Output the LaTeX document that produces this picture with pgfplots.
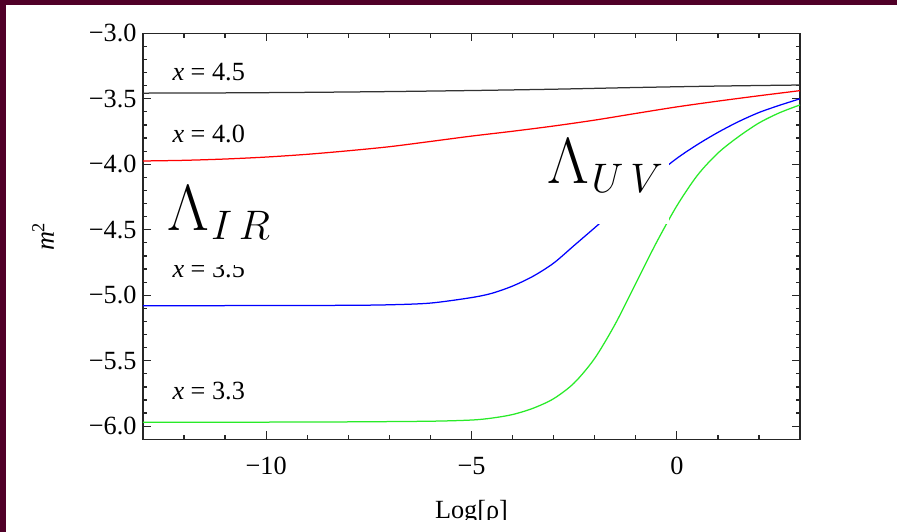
\RequirePackage{fix-cm}
\documentclass[border=0pt]{standalone}
\usepackage{fontspec}
\setmainfont{Liberation Serif}
\usepackage{pgfplots}
\pgfplotsset{compat=1.18}
\DeclareMathSizes{26}{26}{16.5}{11}

\definecolor{slidebg}{RGB}{80,0,40}
\definecolor{curvegreen}{RGB}{40,235,40}

\begin{document}
\begin{tikzpicture}
% slide frame behind the figure
\useasboundingbox (-57.2pt,-37.08pt) rectangle (301.6pt,175.72pt);
\fill[slidebg] (-57.2pt,-37.08pt) rectangle (301.6pt,175.72pt);
\fill[white] (-54.8pt,-37.08pt) rectangle (301.6pt,173.72pt);
\begin{scope}
\clip (-54.8pt,-32.1pt) rectangle (301.6pt,173.72pt);
\begin{axis}[
  at={(0pt,0pt)}, anchor=south west,
  scale only axis, width=262.8pt, height=162.4pt,
  xmin=-13, xmax=3, ymin=-6.1, ymax=-3,
  xtick={-10,-5,0},
  xticklabels={−10,−5,0},
  minor xtick={-13,-12,-11,-9,-8,-7,-6,-4,-3,-2,-1,1,2,3},
  ytick={-6,-5.5,-5,-4.5,-4,-3.5,-3},
  yticklabels={−6.0,−5.5,−5.0,−4.5,−4.0,−3.5,−3.0},
  minor ytick={-6.1,-5.9,-5.8,-5.7,-5.6,-5.4,-5.3,-5.2,-5.1,-4.9,-4.8,-4.7,-4.6,-4.4,-4.3,-4.2,-4.1,-3.9,-3.8,-3.7,-3.6,-3.4,-3.3,-3.2,-3.1},
  tick align=inside,
  major tick length=3.2pt, minor tick length=1.8pt,
  axis line style={line width=0.5pt, black!85},
  every tick/.style={black!85, line width=0.5pt},
  tick label style={font=\fontsize{10.5}{12}\selectfont},
  yticklabel style={inner xsep=0pt, xshift=-2.4pt},
  xticklabel style={inner ysep=0pt, yshift=-7pt},
  xlabel={Log[ρ]},
  xlabel style={at={(axis description cs:0.5,0)}, anchor=base, yshift=-31.5pt,
    font=\fontsize{10.5}{12}\selectfont},
  ylabel={\textit{m}\textsuperscript{2}},
  ylabel style={at={(axis description cs:-0.152,0.5)}, anchor=center,
    font=\fontsize{10.5}{12}\selectfont},
]
% x = 4.5
\addplot[black!80, line width=0.5pt, smooth] table {
-13 -3.457
-11 -3.455
-9  -3.451
-7  -3.445
-5  -3.437
-3  -3.427
-1  -3.414
1   -3.403
3   -3.395
};
% x = 4.0
\addplot[red, line width=0.5pt, smooth] table {
-13 -3.975
-12 -3.970
-11 -3.960
-10 -3.945
-9  -3.924
-8  -3.897
-7  -3.866
-6  -3.826
-5  -3.785
-4  -3.748
-3  -3.708
-2  -3.663
-1  -3.612
0   -3.562
1   -3.518
2   -3.477
3   -3.438
};
% x = 3.5
\addplot[blue, line width=0.5pt, smooth] table {
-13  -5.080
-10  -5.079
-8   -5.077
-7   -5.073
-6   -5.060
-5   -5.018
-4.5 -4.985
-4   -4.930
-3.5 -4.855
-3   -4.755
-2.5 -4.620
-2   -4.485
-1.5 -4.348
-1   -4.213
-0.5 -4.080
0    -3.955
0.5  -3.850
1    -3.757
1.5  -3.675
2    -3.605
2.5  -3.550
3    -3.500
};
% x = 3.3
\addplot[curvegreen, line width=0.5pt, smooth] table {
-13  -5.970
-10  -5.969
-8   -5.967
-6   -5.962
-5   -5.953
-4.5 -5.938
-4   -5.911
-3.5 -5.863
-3   -5.790
-2.5 -5.670
-2   -5.482
-1.5 -5.220
-1   -4.910
-0.5 -4.600
0    -4.318
0.5  -4.085
1    -3.915
1.5  -3.790
2    -3.685
2.5  -3.607
3    -3.547
};
\node[font=\fontsize{10.5}{12}\selectfont] at (axis cs:-11.4,-3.295) {\textit{x} = 4.5};
\node[font=\fontsize{10.5}{12}\selectfont] at (axis cs:-11.4,-3.767) {\textit{x} = 4.0};
\node[font=\fontsize{10.5}{12}\selectfont] at (axis cs:-11.4,-4.799) {\textit{x} = 3.5};
\node[font=\fontsize{10.5}{12}\selectfont] at (axis cs:-11.4,-5.731) {\textit{x} = 3.3};
% scale labels on opaque boxes
\node[fill=white, inner xsep=2pt, inner ysep=2pt, text depth=12pt, anchor=base west,
  font=\fontsize{26}{30}\selectfont] at (axis cs:-12.547,-4.502)
  {$\Lambda_{\mkern1mu I\mkern3mu R}$};
\node[fill=white, inner xsep=2pt, inner ysep=2pt, text depth=14.4pt, anchor=base west,
  font=\fontsize{26}{30}\selectfont] at (axis cs:-3.277,-4.145)
  {$\Lambda_{\mkern1mu U\mkern3mu V}$};
\end{axis}
\end{scope}
\end{tikzpicture}
\end{document}
